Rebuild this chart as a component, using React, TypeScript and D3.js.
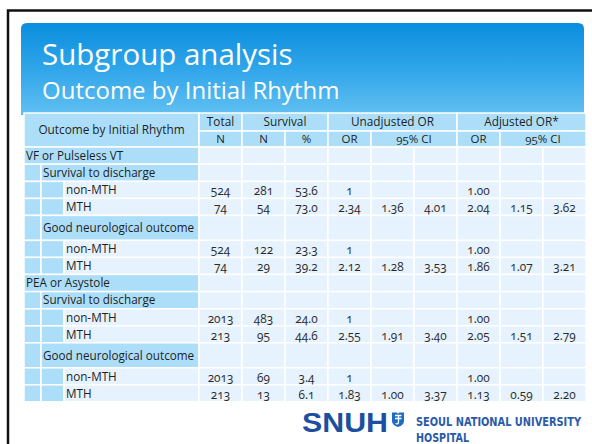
import React from 'react';
import * as d3 from 'd3';

// Slide text
const slideTitle = 'Subgroup analysis';
const slideSubtitle = 'Outcome by Initial Rhythm';

// Table header
const stubHeader = 'Outcome by Initial Rhythm';
const headerGroups = ['Total', 'Survival', 'Unadjusted OR', 'Adjusted OR*'];
const headerGroupSpans = [1, 2, 3, 3];
const subHeaders = ['N', 'N', '%', 'OR', '95% CI', 'OR', '95% CI'];
const subHeaderSpans = [1, 1, 1, 1, 2, 1, 2];

// Row structure
const rhythmGroups = ['VF or Pulseless VT', 'PEA or Asystole'];
const outcomes = ['Survival to discharge', 'Good neurological outcome'];
const arms = ['non-MTH', 'MTH'];

// Values, one per arm row (top to bottom)
const totalN = ['524', '74', '524', '74', '2013', '213', '2013', '213'];
const survivalN = ['281', '54', '122', '29', '483', '95', '69', '13'];
const survivalPct = ['53.6', '73.0', '23.3', '39.2', '24.0', '44.6', '3.4', '6.1'];
const unadjOR = ['1', '2.34', '1', '2.12', '1', '2.55', '1', '1.83'];
const unadjLow = ['', '1.36', '', '1.28', '', '1.91', '', '1.00'];
const unadjHigh = ['', '4.01', '', '3.53', '', '3.40', '', '3.37'];
const adjOR = ['1.00', '2.04', '1.00', '1.86', '1.00', '2.05', '1.00', '1.13'];
const adjLow = ['', '1.15', '', '1.07', '', '1.51', '', '0.59'];
const adjHigh = ['', '3.62', '', '3.21', '', '2.79', '', '2.20'];

const valueColumns = [totalN, survivalN, survivalPct, unadjOR, unadjLow, unadjHigh, adjOR, adjLow, adjHigh];

const W = 592;
const H = 444;
const FONT = '"Open Sans", "DejaVu Sans", sans-serif';
const BLUE = '#acdefa';
const LIGHT = '#e6f2fd';
const INK = '#1e1e1e';

const tableLeft = 24;
const stubRight = 199;
const tableRight = 586;
const indent1 = 41;
const indent2 = 64;
const headTop = 113;
const head1H = 18;
const head2H = 16;

type Row = { kind: 'group' | 'outcome' | 'arm'; label: string; k: number; h: number };

const buildRows = (): Row[] => {
  const rows: Row[] = [];
  let k = 0;
  rhythmGroups.forEach(g => {
    rows.push({ kind: 'group', label: g, k: -1, h: 17.2 });
    outcomes.forEach((o, oi) => {
      rows.push({ kind: 'outcome', label: o, k: -1, h: oi === 1 ? 25 : 17.2 });
      arms.forEach(a => {
        rows.push({ kind: 'arm', label: a, k, h: 17 });
        k += 1;
      });
    });
  });
  return rows;
};

const Cell = ({ x0, x1, y0, y1, fill }: { x0: number; x1: number; y0: number; y1: number; fill: string }) => (
  <rect x={x0} y={y0} width={x1 - x0} height={y1 - y0} fill={fill} stroke="#fff" strokeWidth={1.5} />
);

const Logo = () => (
  <g>
    <text x={302} y={432} fontFamily='"Liberation Sans", Arial, sans-serif' fontWeight="bold" fontSize={27}
      fill="#1d4f9f" textLength={86} lengthAdjust="spacingAndGlyphs">SNUH</text>
    <path d="M392,412.5 L397,412.5 L398,414 L399,412.5 L404,412.5 L404,421 Q404,425 398,427 Q392,425 392,421 Z" fill="#1f6cc6" />
    <path d="M395,415.5 L401.5,415.5 M398.5,415.5 L398.5,422 Q398.5,424.5 395.5,423.5 M395,418.5 L401.5,418.5" stroke="#fff" strokeWidth={1.3} fill="none" />
    <g transform="translate(416,426) scale(1,1.3)">
      <text x={0} y={0} fontFamily='"DejaVu Sans Condensed", "DejaVu Sans", sans-serif' fontWeight="bold" fontSize={10}
        fill="#2a5aa8" textLength={165} lengthAdjust="spacingAndGlyphs">SEOUL NATIONAL UNIVERSITY</text>
    </g>
    <g transform="translate(416,442) scale(1,1.3)">
      <text x={0} y={0} fontFamily='"DejaVu Sans Condensed", "DejaVu Sans", sans-serif' fontWeight="bold" fontSize={10}
        fill="#2a5aa8" textLength={53} lengthAdjust="spacingAndGlyphs">HOSPITAL</text>
    </g>
  </g>
);

export default function App() {
  const rows = buildRows();
  const col = d3.scaleBand<number>()
    .domain(d3.range(valueColumns.length))
    .range([stubRight, tableRight]);
  const bodyTop = headTop + head1H + head2H;
  const rowY = d3.scaleOrdinal<number, number>()
    .domain(d3.range(rows.length))
    .range(rows.map((_, i) => bodyTop + d3.sum(rows.slice(0, i), r => r.h)));

  const spanCells = (spans: number[]) => {
    let start = 0;
    return spans.map(s => {
      const x0 = col(start) as number;
      const x1 = (col(start + s - 1) as number) + col.bandwidth();
      start += s;
      return { x0, x1 };
    });
  };
  const groupCells = spanCells(headerGroupSpans);
  const subCells = spanCells(subHeaderSpans);

  const txt = { fontFamily: FONT, fill: INK };
  const onum = { fontVariantNumeric: 'oldstyle-nums' as const };
  const labelX = (r: Row) => (r.kind === 'group' ? tableLeft : r.kind === 'outcome' ? indent1 : indent2);

  return (
    <svg width={W} height={H} style={{ position: 'fixed', left: 0, top: 0, display: 'block', background: '#fff' }}>
      <defs>
        <linearGradient id="hdr" x1="0" y1="0" x2="0" y2="1">
          <stop offset="0%" stopColor="#0a8ddf" />
          <stop offset="55%" stopColor="#34a8ea" />
          <stop offset="100%" stopColor="#62c0f2" />
        </linearGradient>
      </defs>
      <rect x={0} y={0} width={W} height={H} fill="#fff" />
      {/* slide frame */}
      <path d={`M8,${H} L8,10.5 L${W},10.5`} fill="none" stroke="#111" strokeWidth={2.5} />
      {/* title band */}
      <path d="M21,115 L21,29 Q21,23 27,23 L578,23 Q584,23 584,29 L584,115 Z" fill="url(#hdr)" />
      <text x={42} y={65} fontFamily={FONT} fontSize={29.5} fill="#fff">{slideTitle}</text>
      <text x={42} y={99} fontFamily={FONT} fontSize={24} fill="#fff">{slideSubtitle}</text>

      {/* header */}
      <Cell x0={tableLeft} x1={stubRight} y0={headTop} y1={bodyTop} fill={BLUE} />
      <text x={(tableLeft + stubRight) / 2} y={(headTop + bodyTop) / 2 + 4} textAnchor="middle" fontSize={11.8} {...txt}>{stubHeader}</text>
      {groupCells.map((c, i) => (
        <g key={`g${i}`}>
          <Cell x0={c.x0} x1={c.x1} y0={headTop} y1={headTop + head1H} fill={BLUE} />
          <text x={(c.x0 + c.x1) / 2} y={headTop + 13} textAnchor="middle" fontSize={11.8} {...txt}>{headerGroups[i]}</text>
        </g>
      ))}
      {subCells.map((c, i) => (
        <g key={`s${i}`}>
          <Cell x0={c.x0} x1={c.x1} y0={headTop + head1H} y1={bodyTop} fill={BLUE} />
          <text x={(c.x0 + c.x1) / 2} y={headTop + head1H + 12} textAnchor="middle" fontSize={11.5} {...txt}
            style={onum}>{subHeaders[i]}</text>
        </g>
      ))}

      {/* body cells */}
      {rows.map((r, i) => {
        const y0 = rowY(i);
        const y1 = y0 + r.h;
        return (
          <g key={`r${i}`}>
            {r.kind !== 'group' && <Cell x0={tableLeft} x1={indent1} y0={y0} y1={y1} fill={BLUE} />}
            {r.kind === 'arm' && <Cell x0={indent1} x1={indent2} y0={y0} y1={y1} fill={BLUE} />}
            <Cell x0={labelX(r)} x1={stubRight} y0={y0} y1={y1} fill={r.kind === 'arm' ? LIGHT : BLUE} />
            {valueColumns.map((_, j) => (
              <Cell key={`c${j}`} x0={col(j) as number} x1={(col(j) as number) + col.bandwidth()} y0={y0} y1={y1} fill={LIGHT} />
            ))}
          </g>
        );
      })}

      {/* body text */}
      {rows.map((r, i) => {
        const cy = rowY(i) + r.h / 2 + 4.2;
        return (
          <g key={`t${i}`}>
            <text x={labelX(r) + 2} y={cy} fontSize={11.7} {...txt}>{r.label}</text>
            {r.k >= 0 && valueColumns.map((vals, j) => (
              <text key={`v${j}`} x={(col(j) as number) + col.bandwidth() / 2} y={cy + 1} textAnchor="middle" fontSize={11.8}
                {...txt} fill="#2a2a2a" style={onum}>{vals[r.k]}</text>
            ))}
          </g>
        );
      })}

      <Logo />
    </svg>
  );
}
